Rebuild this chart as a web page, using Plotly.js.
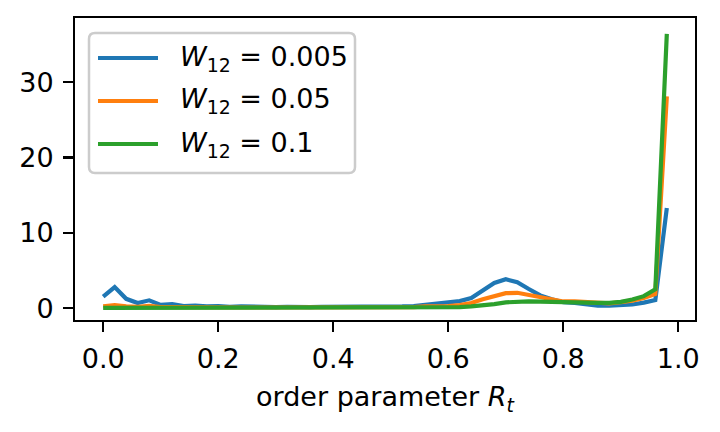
<!DOCTYPE html>
<html>
<head>
<meta charset="utf-8">
<script src="https://cdn.plot.ly/plotly-3.0.1.min.js"></script>
<style>html,body{margin:0;padding:0;background:#fff;}#chart{width:720px;height:432px;}</style>
</head>
<body>
<div id="chart"></div>
<script>
// order parameter bins
var orderParam = [0.00,0.02,0.04,0.06,0.08,0.10,0.12,0.14,0.16,0.18,
                  0.20,0.22,0.24,0.26,0.28,0.30,0.32,0.34,0.36,0.38,
                  0.40,0.42,0.44,0.46,0.48,0.50,0.52,0.54,0.56,0.58,
                  0.60,0.62,0.64,0.66,0.68,0.70,0.72,0.74,0.76,0.78,
                  0.80,0.82,0.84,0.86,0.88,0.90,0.92,0.94,0.96,0.98];
// W12 = 0.005
var densW0005 = [1.55,2.8,1.25,0.7,1.05,0.45,0.55,0.3,0.35,0.25,
                 0.3,0.2,0.25,0.2,0.2,0.15,0.2,0.15,0.15,0.2,
                 0.2,0.2,0.15,0.2,0.2,0.25,0.25,0.3,0.45,0.6,
                 0.75,0.95,1.35,2.3,3.35,3.85,3.45,2.55,1.7,1.2,
                 0.8,0.7,0.5,0.35,0.35,0.4,0.5,0.75,1.1,13.3];
// W12 = 0.05
var densW005 = [0.25,0.4,0.25,0.2,0.3,0.15,0.15,0.12,0.12,0.1,
                0.1,0.1,0.1,0.1,0.1,0.1,0.1,0.1,0.1,0.1,
                0.1,0.1,0.1,0.1,0.1,0.12,0.12,0.15,0.25,0.25,
                0.3,0.42,0.7,1.2,1.65,2.0,2.05,1.75,1.45,1.2,
                0.9,0.9,0.8,0.65,0.65,0.8,1.0,1.35,1.9,28.1];
// W12 = 0.1
var densW01 = [0.05,0.05,0.05,0.05,0.05,0.05,0.05,0.05,0.05,0.05,
               0.05,0.05,0.05,0.05,0.05,0.05,0.05,0.05,0.05,0.05,
               0.05,0.05,0.05,0.05,0.05,0.05,0.05,0.05,0.1,0.1,
               0.12,0.15,0.25,0.35,0.55,0.78,0.87,0.9,0.87,0.87,
               0.78,0.85,0.75,0.7,0.7,0.85,1.15,1.6,2.5,36.4];

var seriesNames = ['<i>W</i><sub>12</sub> = 0.005', '<i>W</i><sub>12</sub> = 0.05', '<i>W</i><sub>12</sub> = 0.1'];
var seriesColors = ['#1f77b4', '#ff7f0e', '#2ca02c'];
var seriesData = [densW0005, densW005, densW01];

var xTickVals = [0, 0.2, 0.4, 0.6, 0.8, 1.0];
var yTickVals = [0, 10, 20, 30];

var FONT = 'DejaVu Sans, sans-serif';
var traces = seriesData.map(function (d, i) {
  return {x: orderParam, y: d, type: 'scatter', mode: 'lines', name: seriesNames[i],
          line: {color: seriesColors[i], width: 4.2}, showlegend: false, hoverinfo: 'skip'};
});

// plot area in pixels
var L = 75, R = 695, T = 18, B = 320;
function px(x) { return (x - L) / (R - L); }
function py(y) { return (B - y) / (B - T); }

// custom legend (matplotlib style)
var bx0 = 89, bx1 = 355, by0 = 33, by1 = 173, rad = 6;
function P(x, y) { return px(x) + ',' + py(y); }
var boxPath = 'M' + P(bx0 + rad, by0) + ' L' + P(bx1 - rad, by0) +
  ' Q' + P(bx1, by0) + ' ' + P(bx1, by0 + rad) + ' L' + P(bx1, by1 - rad) +
  ' Q' + P(bx1, by1) + ' ' + P(bx1 - rad, by1) + ' L' + P(bx0 + rad, by1) +
  ' Q' + P(bx0, by1) + ' ' + P(bx0, by1 - rad) + ' L' + P(bx0, by0 + rad) +
  ' Q' + P(bx0, by0) + ' ' + P(bx0 + rad, by0) + ' Z';
var shapes = [{type: 'path', xref: 'paper', yref: 'paper', path: boxPath,
               fillcolor: 'rgba(255,255,255,0.8)', line: {color: '#cccccc', width: 2.5}}];
var annotations = [];
var rowY = [58, 101, 144];
for (var i = 0; i < 3; i++) {
  shapes.push({type: 'line', xref: 'paper', yref: 'paper', x0: px(98), x1: px(158),
               y0: py(rowY[i]), y1: py(rowY[i]), line: {color: seriesColors[i], width: 4.2}});
  annotations.push({xref: 'paper', yref: 'paper', x: px(178), y: py(rowY[i]), xanchor: 'left',
                    yanchor: 'middle', showarrow: false, text: seriesNames[i],
                    font: {family: FONT, size: 27, color: '#000'}});
}

var layout = {
  width: 720, height: 432,
  margin: {l: L, r: 720 - R, t: T, b: 432 - B, pad: 0},
  paper_bgcolor: '#fff', plot_bgcolor: '#fff',
  font: {family: FONT, size: 27, color: '#000'},
  showlegend: false,
  xaxis: {range: [-0.049, 1.029], tickvals: xTickVals, tickformat: '.1f',
          showgrid: false, zeroline: false, showline: true, mirror: true,
          linecolor: '#000', linewidth: 2.2, ticks: 'outside', ticklen: 9.7,
          tickwidth: 2.2, tickcolor: '#000', ticklabelstandoff: 4,
          tickfont: {family: FONT, size: 27, color: '#000'},
          title: {text: 'order parameter <i>R</i><sub><i>t</i></sub>', standoff: 14,
                  font: {family: FONT, size: 27, color: '#000'}}},
  yaxis: {range: [-1.56, 38.5], tickvals: yTickVals,
          showgrid: false, zeroline: false, showline: true, mirror: true,
          linecolor: '#000', linewidth: 2.2, ticks: 'outside', ticklen: 9.7,
          tickwidth: 2.2, tickcolor: '#000', ticklabelstandoff: 4,
          tickfont: {family: FONT, size: 27, color: '#000'}},
  shapes: shapes,
  annotations: annotations
};
Plotly.newPlot('chart', traces, layout, {displayModeBar: false, staticPlot: true});
</script>
</body>
</html>
